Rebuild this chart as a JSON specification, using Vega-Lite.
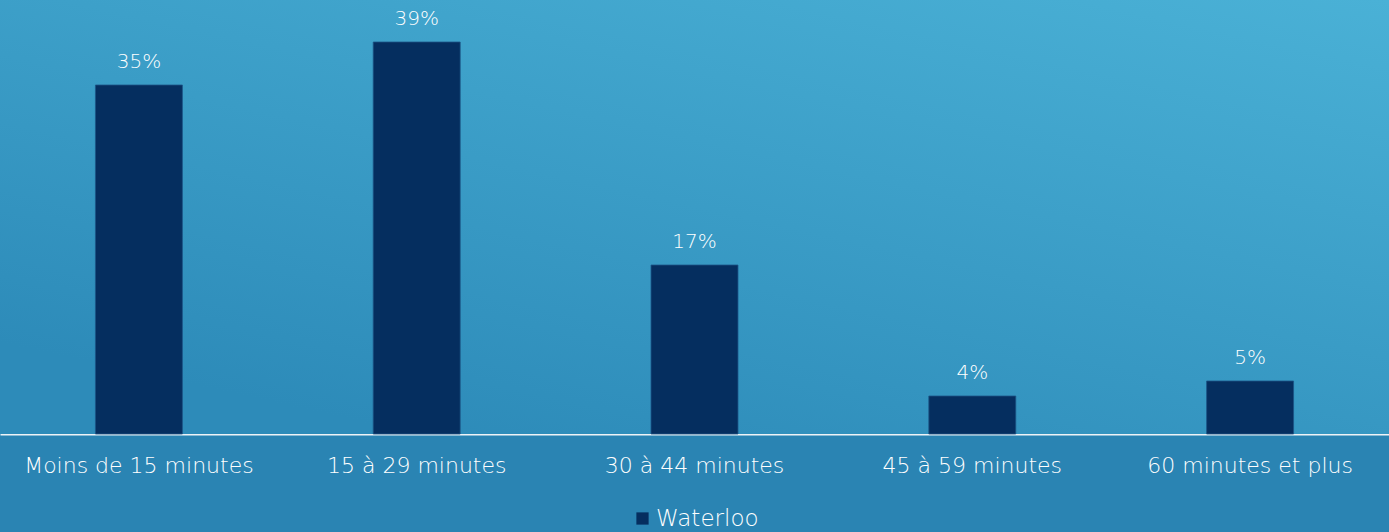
{
  "$schema": "https://vega.github.io/schema/vega-lite/v6.json",
  "width": 1389,
  "height": 434,
  "autosize": {"type": "none"},
  "padding": {"left": 0, "top": 0, "right": 0, "bottom": 98},
  "background": "#2a84b3",
  "config": {"view": {"stroke": null}, "font": "DejaVu Sans"},
  "data": {"values": [
    {"cat": "Moins de 15 minutes", "val": 34.9, "label": "35%", "serie": "Waterloo"},
    {"cat": "15 à 29 minutes", "val": 39.2, "label": "39%", "serie": "Waterloo"},
    {"cat": "30 à 44 minutes", "val": 16.9, "label": "17%", "serie": "Waterloo"},
    {"cat": "45 à 59 minutes", "val": 3.8, "label": "4%", "serie": "Waterloo"},
    {"cat": "60 minutes et plus", "val": 5.3, "label": "5%", "serie": "Waterloo"}
  ]},
  "layer": [
    {
      "data": {"values": [{}]},
      "mark": {"type": "rect", "color": {"gradient": "linear", "x1": 1, "y1": 0, "x2": 0.3, "y2": 1, "stops": [{"offset": 0, "color": "#4ab1d6"}, {"offset": 1, "color": "#2d8bb9"}]}},
      "encoding": {}
    },
    {
      "mark": {"type": "bar", "color": "#052e5f", "stroke": "#1d5485", "strokeWidth": 0.8},
      "encoding": {
        "x": {"field": "cat", "type": "nominal", "sort": null,
          "scale": {"paddingInner": 0.687, "paddingOuter": 0.3435},
          "axis": {"title": null, "labelAngle": 0, "labelColor": "#ffffff", "labelFontSize": 22, "labelFontWeight": 300, "labelPadding": 21, "labelLimit": 300, "ticks": false, "domainColor": "#eef3f7", "domainWidth": 2, "labelFont": "DejaVu Sans"}},
        "y": {"field": "val", "type": "quantitative", "scale": {"domain": [0, 43.4], "nice": false}, "axis": null},
        "fill": {"field": "serie", "type": "nominal", "scale": {"range": ["#052e5f"]},
          "legend": {"title": null, "orient": "none", "legendX": 631, "legendY": 507, "symbolType": "square", "symbolSize": 150, "labelColor": "#ffffff", "labelFontSize": 23, "labelFontWeight": 300, "labelFont": "DejaVu Sans", "symbolStrokeWidth": 0, "labelOffset": 2}}
      }
    },
    {
      "mark": {"type": "text", "color": "#ffffff", "fontSize": 20, "fontWeight": 300, "baseline": "bottom", "dy": -13, "font": "DejaVu Sans"},
      "encoding": {
        "x": {"field": "cat", "type": "nominal", "sort": null},
        "y": {"field": "val", "type": "quantitative"},
        "text": {"field": "label"}
      }
    }
  ]
}
